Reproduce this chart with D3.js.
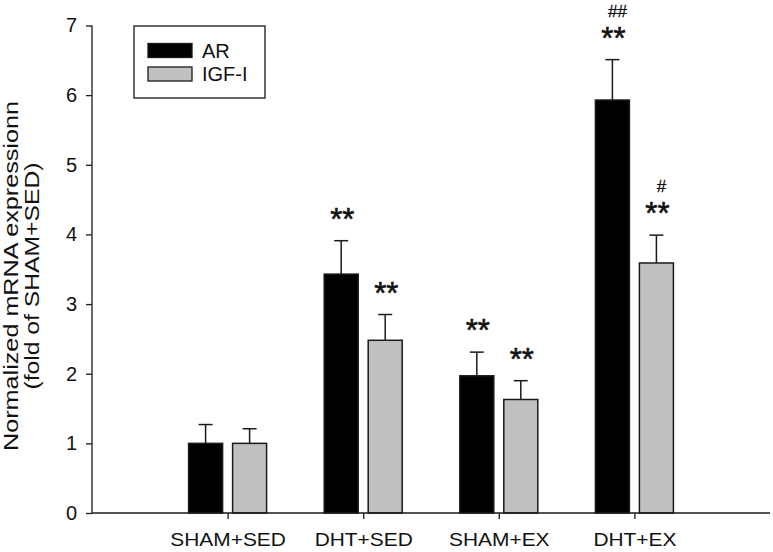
<!DOCTYPE html>
<html>
<head>
<meta charset="utf-8">
<script src="https://cdn.jsdelivr.net/npm/d3@7/dist/d3.min.js"></script>
<style>
  html, body { margin: 0; padding: 0; background: #fff; }
  svg { display: block; font-family: "Liberation Sans", Arial, sans-serif; }
</style>
</head>
<body>
<svg id="chart" width="773" height="552"></svg>
<script>
// ---- data ----
const categories = ["SHAM+SED", "DHT+SED", "SHAM+EX", "DHT+EX"];
const seriesNames = ["AR", "IGF-I"];
const arMean = [1.00, 3.43, 1.97, 5.93];
const arErr  = [0.27, 0.48, 0.34, 0.58];
const igfMean = [1.00, 2.48, 1.63, 3.59];
const igfErr  = [0.21, 0.37, 0.27, 0.40];
const arStars  = ["", "**", "**", "**"];
const arHash   = ["", "", "", "##"];
const igfStars = ["", "**", "**", "**"];
const igfHash  = ["", "", "", "#"];
const yTicks = [0, 1, 2, 3, 4, 5, 6, 7];
const yLabel = ["Normalized mRNA expressionn", "(fold of SHAM+SED)"];

// ---- layout ----
const svg = d3.select("#chart");
const pLeft = 92, pRight = 770, pTop = 25.5, pBottom = 513;
const colors = ["#000000", "#c0c0c0"];
const barW = 34, barGap = 5;
const ink = "#1a1a1a";

const x = d3.scalePoint().domain(categories).range([pLeft + (pRight - pLeft) / 5, pRight - (pRight - pLeft) / 5]);
const y = d3.scaleLinear().domain([0, 7]).range([pBottom, pTop]);

const series = [
  { name: seriesNames[0], mean: arMean, err: arErr, stars: arStars, hash: arHash, color: colors[0], dir: -1 },
  { name: seriesNames[1], mean: igfMean, err: igfErr, stars: igfStars, hash: igfHash, color: colors[1], dir: 1 }
];

function barCenter(s, i) {
  return x(categories[i]) + s.dir * (barGap + barW / 2);
}

// bars, error bars, annotations
series.forEach(s => {
  const g = svg.append("g");
  categories.forEach((c, i) => {
    const cx = barCenter(s, i);
    const yTop = y(s.mean[i]);
    const yErr = y(s.mean[i] + s.err[i]);
    g.append("line")
      .attr("x1", cx).attr("x2", cx).attr("y1", yTop).attr("y2", yErr)
      .attr("stroke", ink).attr("stroke-width", 1.5);
    g.append("line")
      .attr("x1", cx - 7).attr("x2", cx + 7).attr("y1", yErr).attr("y2", yErr)
      .attr("stroke", ink).attr("stroke-width", 1.5);
    g.append("rect")
      .attr("x", cx - barW / 2).attr("y", yTop)
      .attr("width", barW).attr("height", y(0) - yTop)
      .attr("fill", s.color).attr("stroke", ink).attr("stroke-width", 1.5);
    if (s.stars[i]) {
      g.append("text")
        .attr("x", cx + 1).attr("y", yErr - 11)
        .attr("text-anchor", "middle").attr("font-size", 31)
        .attr("stroke", "#111").attr("stroke-width", 0.6)
        .attr("fill", "#111").text(s.stars[i]);
    }
    if (s.hash[i]) {
      g.append("text")
        .attr("x", cx + 5).attr("y", yErr - 43)
        .attr("text-anchor", "middle").attr("font-size", 17)
        .attr("stroke", "#111").attr("stroke-width", 0.3)
        .attr("fill", "#111").text(s.hash[i]);
    }
  });
});

// y axis
const yAxis = svg.append("g").attr("transform", `translate(${pLeft},0)`)
  .call(d3.axisLeft(y).tickValues(yTicks).tickFormat(d3.format("d")).tickSize(6).tickPadding(9));
yAxis.selectAll("text").attr("font-size", 20).attr("fill", "#111").attr("font-family", "Liberation Sans, Arial, sans-serif");
yAxis.selectAll("line").attr("stroke", ink).attr("stroke-width", 1.3);
yAxis.select(".domain").attr("stroke", ink).attr("stroke-width", 1.3).attr("d", `M0,${pTop}H0V${pBottom}`);

// x axis
const xAxis = svg.append("g").attr("transform", `translate(0,${pBottom})`)
  .call(d3.axisBottom(x).tickSize(6).tickPadding(14));
xAxis.selectAll("text").attr("font-size", 19).attr("fill", "#111")
  .attr("font-family", "Liberation Sans, Arial, sans-serif")
  .attr("transform", "scale(1.1,1)");
xAxis.selectAll("line").attr("stroke", ink).attr("stroke-width", 1.3);
xAxis.select(".domain").attr("stroke", ink).attr("stroke-width", 1.3).attr("d", `M${pLeft},0H${pRight}`);

// y label
const yl = svg.append("text")
  .attr("transform", `translate(0,276) rotate(-90)`)
  .attr("text-anchor", "middle").attr("font-size", 21).attr("fill", "#111");
yl.append("tspan").attr("x", 0).attr("y", 18)
  .attr("textLength", 350).attr("lengthAdjust", "spacingAndGlyphs").text(yLabel[0]);
yl.append("tspan").attr("x", 0).attr("y", 39)
  .attr("textLength", 227).attr("lengthAdjust", "spacingAndGlyphs").text(yLabel[1]);

// legend
const lg = svg.append("g");
lg.append("rect").attr("x", 134).attr("y", 26).attr("width", 131).attr("height", 72)
  .attr("fill", "#fff").attr("stroke", ink).attr("stroke-width", 1.3);
series.forEach((s, i) => {
  lg.append("rect").attr("x", 148).attr("y", 43.5 + i * 23.5).attr("width", 44).attr("height", 14)
    .attr("fill", s.color).attr("stroke", ink).attr("stroke-width", 1.3);
  lg.append("text").attr("x", 202).attr("y", 57.5 + i * 23.5)
    .attr("font-size", 20).attr("fill", "#111").text(s.name);
});
</script>
</body>
</html>
